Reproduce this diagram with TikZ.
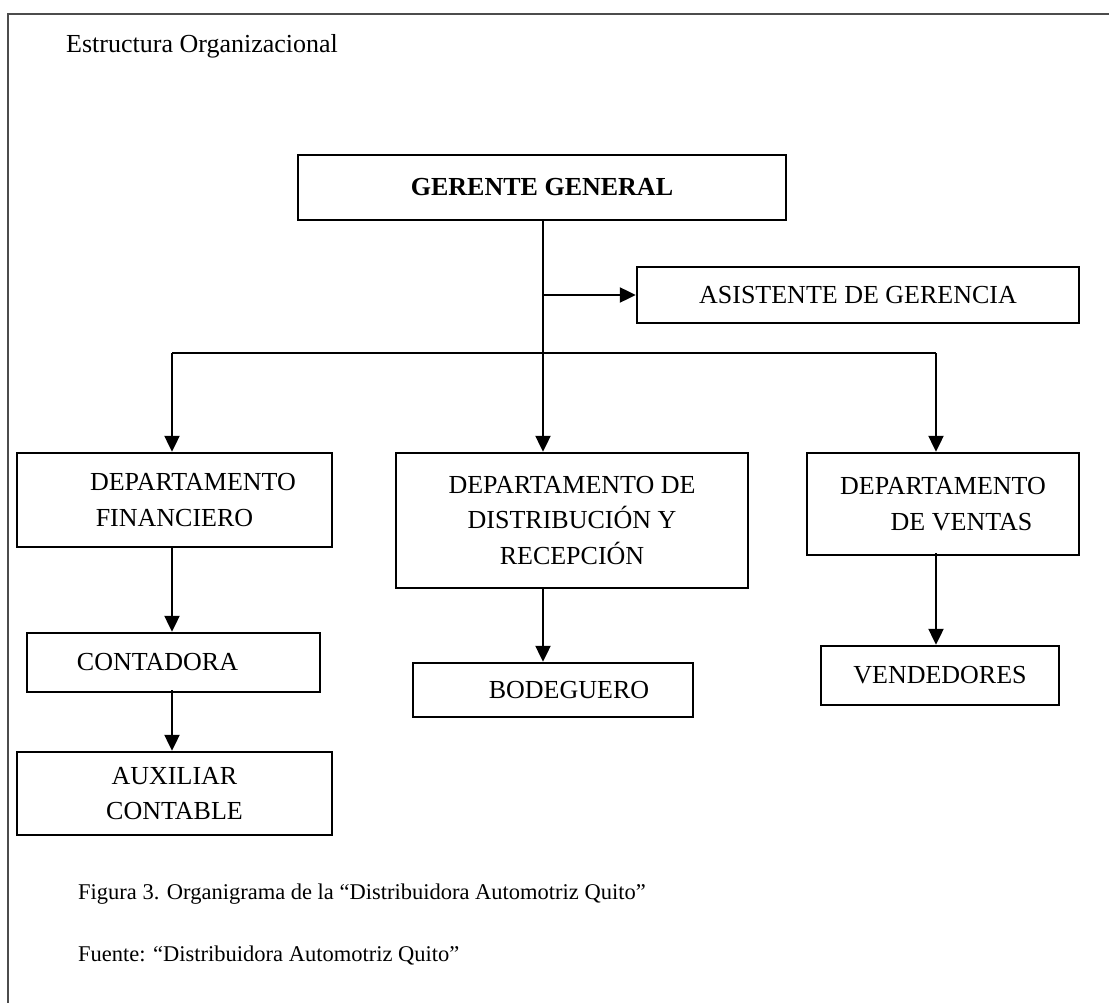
\documentclass[tikz,border=0pt]{standalone}
\usepackage{fontspec}
\setmainfont{Liberation Serif}
\usetikzlibrary{arrows.meta}

\begin{document}
\begin{tikzpicture}[x=1pt,y=-1pt,
  unitbox/.style={draw=black, line width=2.4pt, inner sep=0pt, align=center,
    font=\fontsize{26}{35.5}\selectfont},
  link/.style={line width=2.2pt, draw=black},
  arr/.style={link, -{Triangle[length=16pt,width=15pt]}},
  frameline/.style={draw=black!70, line width=2pt},
  plain/.style={inner sep=0pt, font=\fontsize{26}{32}\selectfont},
  caption/.style={inner sep=0pt, font=\fontsize{22.5}{28}\selectfont}]

\useasboundingbox (0,0) rectangle (1109,1003);

% page frame (top and left edges)
\draw[frameline] (8,1003) -- (8,14) -- (1109,14);

% heading
\node[plain, anchor=base west] (title) at (66,53) {Estructura Organizacional};

% boxes
\node[unitbox, minimum width=488pt, minimum height=65pt] (gg) at (542,187.5)
  {\textbf{GERENTE GENERAL}};
\node[unitbox, minimum width=442pt, minimum height=56pt] (asis) at (858,295)
  {ASISTENTE DE GERENCIA};
\node[unitbox, minimum width=315pt, minimum height=94pt] (fin) at (174.5,500)
  {\hspace*{37pt}DEPARTAMENTO\\FINANCIERO};
\node[unitbox, minimum width=352pt, minimum height=135pt] (dist) at (572,520.5)
  {DEPARTAMENTO DE\\DISTRIBUCIÓN Y\\RECEPCIÓN};
\node[unitbox, minimum width=272pt, minimum height=102pt] (vent) at (943,504)
  {DEPARTAMENTO\\\hspace*{37pt}DE VENTAS};
\node[unitbox, minimum width=293pt, minimum height=59pt] (cont) at (173.5,662.5)
  {CONTADORA\hspace*{32pt}};
\node[unitbox, minimum width=315pt, minimum height=83pt] (aux) at (174.5,793.5)
  {AUXILIAR\\CONTABLE};
\node[unitbox, minimum width=280pt, minimum height=54pt] (bod) at (553,690)
  {\hspace*{32pt}BODEGUERO};
\node[unitbox, minimum width=238pt, minimum height=59pt] (vend) at (940,675.5)
  {VENDEDORES};

% column guides for the connectors
\coordinate (tc) at (543,0);
\coordinate (lc) at (172,0);
\coordinate (rc) at (936,0);
\coordinate (bar) at (0,353);

% trunk from the general manager
\draw[arr] (tc |- gg.south) -- (tc |- dist.north);
\draw[arr] (tc |- asis.west) -- (asis.west);

% horizontal branch and side drops
\draw[link] (lc |- bar) -- (rc |- bar);
\draw[arr] (lc |- bar) -- (lc |- fin.north);
\draw[arr] (rc |- bar) -- (rc |- vent.north);

% lower levels
\draw[arr] (lc |- fin.south) -- (lc |- cont.north);
\draw[arr] ([yshift=3pt]lc |- cont.south) -- (lc |- aux.north);
\draw[arr] (tc |- dist.south) -- (tc |- bod.north);
\draw[arr] ([yshift=3pt]rc |- vent.south) -- (rc |- vend.north);

% captions
\node[caption, anchor=base west] (fig) at (78,899)
  {Figura 3. Organigrama de la “Distribuidora Automotriz Quito”};
\node[caption, anchor=base west] (src) at (78,961)
  {Fuente: “Distribuidora Automotriz Quito”};

\end{tikzpicture}
\end{document}
